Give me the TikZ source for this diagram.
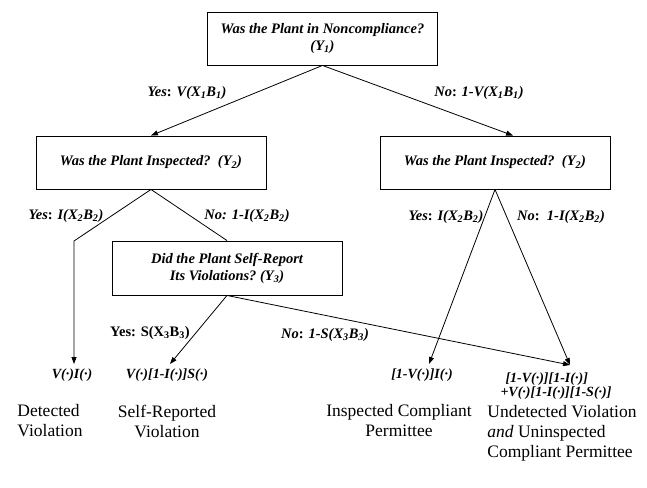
\documentclass[tikz,border=0pt]{standalone}
\usepackage{fontspec}
\setmainfont{Liberation Serif}
\usetikzlibrary{arrows.meta}
\newcommand{\sbs}[1]{\textsubscript{#1}}
\newcommand{\pdot}{(\textperiodcentered)}

\begin{document}
\begin{tikzpicture}
  [x=1pt,y=-1pt,line width=0.8pt,
   question/.style={draw,line width=0.9pt,minimum width=230pt,minimum height=53pt,align=center,
     font=\fontsize{14.5}{17}\selectfont\bfseries\itshape},
   branch/.style={inner sep=1pt,font=\fontsize{14.5}{16}\selectfont\bfseries\itshape},
   outcome/.style={anchor=north,inner sep=3pt,outer sep=1.5pt,
     font=\fontsize{14}{14}\selectfont\bfseries\itshape},
   caption/.style={inner sep=0pt,font=\fontsize{17.5}{20}\selectfont},
   arr/.style={-{Triangle[length=7pt,width=5pt]}}] % all coordinates are in pixels of the page, y going down

  \useasboundingbox (0,0) rectangle (647,487);

  % the question boxes
  \node[question] (q1) at (322.5,38.5) {Was the Plant in Noncompliance?\\(Y\sbs{1})};
  \node[question] (q2l) at (151,162.5) {Was the Plant Inspected?~~(Y\sbs{2})};
  \node[question] (q2r) at (495,162.5) {Was the Plant Inspected?~~(Y\sbs{2})};
  \node[question,minimum height=54pt] (q3) at (227,268) {Did the Plant Self-Report\\Its Violations?~(Y\sbs{3})};

  % the outcomes
  \node[outcome] (r1) at (72,364) {V\pdot I\pdot};
  \node[outcome] (r2) at (167,364) {V\pdot[1-I\pdot]S\pdot};
  \node[outcome] (r3) at (422,364) {[1-V\pdot]I\pdot};
  \node[outcome,align=left,inner ysep=6pt] (r4) at (556,365) {\hspace{5pt}[1-V\pdot][1-I\pdot]\\+V\pdot[1-I\pdot][1-S\pdot]};

  \node[caption,align=left] (c1) at (50,421) {Detected\\Violation};
  \node[caption,align=center] (c2) at (167,421) {Self-Reported\\Violation};
  \node[caption,align=center] (c3) at (399,421) {Inspected Compliant\\Permittee};
  \node[caption,align=left,anchor=west] (c4) at (487,433) {Undetected Violation\\\textit{and} Uninspected\\Compliant Permittee};

  % the branch labels
  \node[branch] (e1) at (187,93) {Yes\textup{:} V(X\sbs{1}B\sbs{1})};
  \node[branch] (e2) at (479,93) {No\textup{:} 1-V(X\sbs{1}B\sbs{1})};
  \node[branch] (e3) at (66,216) {Yes\textup{:} I(X\sbs{2}B\sbs{2})};
  \node[branch] (e4) at (247,216) {No: 1-I(X\sbs{2}B\sbs{2})};
  \node[branch] (e5) at (446,217) {Yes\textup{:} I(X\sbs{2}B\sbs{2})};
  \node[branch] (e6) at (561,217) {No\textup{:}~~1-I(X\sbs{2}B\sbs{2})};
  \node[branch,font=\fontsize{14.5}{16}\selectfont\bfseries] (e7) at (150,333) {Yes: S(X\sbs{3}B\sbs{3})};
  \node[branch] (e8) at (325,335) {No\textup{:} 1-S(X\sbs{3}B\sbs{3})};

  \coordinate (k1) at (74,241); % corner of the left branch

  \draw[arr] (q1.south) -- (q2l.north);
  \draw[arr] (q1.south) -- ([xshift=18pt]q2r.north);
  \draw[arr] (q2l.south) -- (k1) -- (k1 |- r1.north);
  \draw (q2l.south) -- (q3.north);
  \draw[arr] (q3.south) -- ([xshift=3pt]r2.north);
  \draw[arr] (q3.south) -- ([xshift=14pt]r4.north);
  \draw[arr] (q2r.south) -- ([xshift=7pt]r3.north);
  \draw[arr] (q2r.south) -- ([xshift=14pt]r4.north);

\end{tikzpicture}
\end{document}
